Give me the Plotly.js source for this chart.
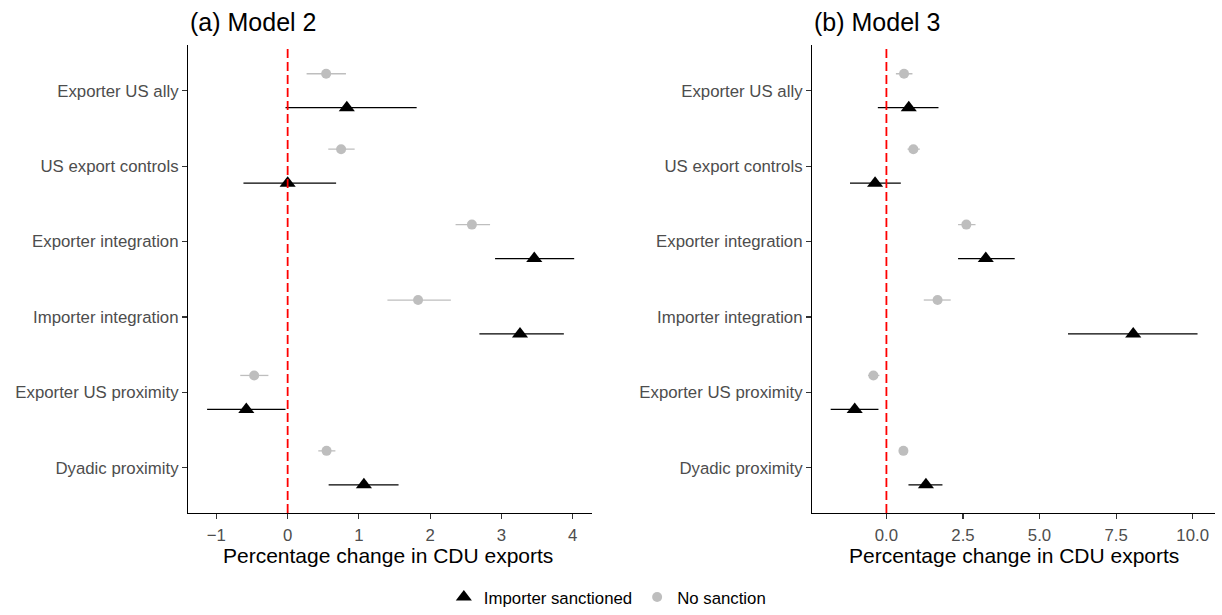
<!DOCTYPE html>
<html>
<head>
<meta charset="utf-8">
<script src="https://cdn.plot.ly/plotly-3.0.1.min.js"></script>
<style>html,body{margin:0;padding:0;background:#fff;}#chart{width:1222px;height:615px;}</style>
</head>
<body>
<div id="chart"></div>
<script>
// Categories, top to bottom
const categories = ["Exporter US ally", "US export controls", "Exporter integration",
  "Importer integration", "Exporter US proximity", "Dyadic proximity"];
const catPos = [6, 5, 4, 3, 2, 1];

// (a) Model 2
const m2SancEst = [0.83, 0.00, 3.46, 3.26, -0.58, 1.07];
const m2SancLo  = [-0.03, -0.62, 2.91, 2.69, -1.13, 0.575];
const m2SancHi  = [1.81, 0.68, 4.02, 3.875, -0.03, 1.556];
const m2NoneEst = [0.54, 0.75, 2.585, 1.83, -0.47, 0.546];
const m2NoneLo  = [0.266, 0.57, 2.356, 1.40, -0.665, 0.43];
const m2NoneHi  = [0.818, 0.94, 2.84, 2.29, -0.27, 0.67];

// (b) Model 3
const m3SancEst = [0.73, -0.37, 3.245, 8.06, -1.035, 1.29];
const m3SancLo  = [-0.28, -1.19, 2.34, 5.93, -1.82, 0.72];
const m3SancHi  = [1.70, 0.47, 4.19, 10.16, -0.26, 1.83];
const m3NoneEst = [0.575, 0.88, 2.61, 1.67, -0.425, 0.555];
const m3NoneLo  = [0.31, 0.69, 2.34, 1.22, -0.6, 0.45];
const m3NoneHi  = [0.85, 1.09, 2.91, 2.10, -0.23, 0.66];

const seriesNames = ["Importer sanctioned", "No sanction"];
const m2Ticks = [-1, 0, 1, 2, 3, 4];
const m3Ticks = [0, 2.5, 5, 7.5, 10];
const m3TickText = ["0.0", "2.5", "5.0", "7.5", "10.0"];
const panelTitles = ["(a) Model 2", "(b) Model 3"];
const xTitle = "Percentage change in CDU exports";

const FONT = "Liberation Sans, Arial, Helvetica, sans-serif";
const DODGE = 0.225;
const sancColor = "#000000";
const noneColor = "#bebebe";

function mkTrace(est, lo, hi, offset, name, color, symbol, size, xa, ya, showlegend) {
  return {
    type: "scatter", mode: "markers", name: name,
    x: est, y: catPos.map(p => p + offset),
    xaxis: xa, yaxis: ya, showlegend: showlegend,
    marker: {color: color, symbol: symbol, size: size, line: {width: 0}},
    error_x: {
      type: "data", symmetric: false,
      array: hi.map((h, i) => h - est[i]),
      arrayminus: lo.map((l, i) => est[i] - l),
      color: color, thickness: 1.3, width: 0
    },
    hoverinfo: "x+y"
  };
}

const traces = [
  mkTrace(m2SancEst, m2SancLo, m2SancHi, -DODGE, seriesNames[0], sancColor, "triangle-up", 14, "x", "y", true),
  mkTrace(m2NoneEst, m2NoneLo, m2NoneHi, DODGE, seriesNames[1], noneColor, "circle", 10, "x", "y", true),
  mkTrace(m3SancEst, m3SancLo, m3SancHi, -DODGE, seriesNames[0], sancColor, "triangle-up", 14, "x2", "y2", false),
  mkTrace(m3NoneEst, m3NoneLo, m3NoneHi, DODGE, seriesNames[1], noneColor, "circle", 10, "x2", "y2", false)
];

const W = 1222, H = 615;
const yDom = [(H - 519) / H, (H - 46) / H];
const tickFont = {family: FONT, size: 16.8, color: "#4d4d4d"};

function xAxis(dom, range, anchor, tickvals, ticktext) {
  const a = {
    domain: dom, range: range, anchor: anchor,
    showgrid: false, zeroline: false,
    showline: true, linecolor: "#000000", linewidth: 1.1,
    ticks: "outside", ticklen: 5, tickwidth: 1.1, tickcolor: "#333333",
    ticklabelstandoff: 2,
    tickvals: tickvals, tickfont: tickFont, fixedrange: true
  };
  if (ticktext) a.ticktext = ticktext;
  return a;
}
function yAxis(anchor) {
  return {
    domain: yDom, range: [0.4, 6.6], anchor: anchor,
    showgrid: false, zeroline: false,
    showline: true, linecolor: "#000000", linewidth: 1.1,
    ticks: "outside", ticklen: 5, tickwidth: 1.1, tickcolor: "#333333",
    tickvals: catPos, ticktext: categories, tickfont: tickFont, fixedrange: true
  };
}

const layout = {
  width: W, height: H,
  margin: {l: 0, r: 0, t: 0, b: 0},
  paper_bgcolor: "#ffffff", plot_bgcolor: "#ffffff",
  font: {family: FONT},
  showlegend: true,
  legend: {
    orientation: "h", x: 0.497, xanchor: "center", y: (H - 604) / H, yanchor: "middle",
    font: {family: FONT, size: 16.8, color: "#000000"},
    bgcolor: "rgba(0,0,0,0)"
  },
  xaxis: xAxis([188 / W, 592 / W], [-1.398, 4.27], "y", m2Ticks),
  yaxis: yAxis("x"),
  xaxis2: xAxis([812 / W, 1215 / W], [-2.43, 10.73], "y2", m3Ticks, m3TickText),
  yaxis2: yAxis("x2"),
  shapes: [
    {type: "line", xref: "x", yref: "y domain", x0: 0, x1: 0, y0: 0, y1: 1,
     line: {color: "#ff0000", width: 1.8, dash: "9px,4px"}, layer: "above"},
    {type: "line", xref: "x2", yref: "y2 domain", x0: 0, x1: 0, y0: 0, y1: 1,
     line: {color: "#ff0000", width: 1.8, dash: "9px,4px"}, layer: "above"}
  ],
  annotations: [
    {text: panelTitles[0], xref: "paper", yref: "paper", x: 188 / W, y: (H - 22) / H,
     xanchor: "left", yanchor: "middle", showarrow: false,
     font: {family: FONT, size: 25, color: "#000000"}},
    {text: panelTitles[1], xref: "paper", yref: "paper", x: 812 / W, y: (H - 22) / H,
     xanchor: "left", yanchor: "middle", showarrow: false,
     font: {family: FONT, size: 25, color: "#000000"}},
    {text: xTitle, xref: "paper", yref: "paper", x: 388 / W, y: (H - 562) / H,
     xanchor: "center", yanchor: "middle", showarrow: false,
     font: {family: FONT, size: 21, color: "#000000"}},
    {text: xTitle, xref: "paper", yref: "paper", x: 1014 / W, y: (H - 562) / H,
     xanchor: "center", yanchor: "middle", showarrow: false,
     font: {family: FONT, size: 21, color: "#000000"}}
  ]
};

Plotly.newPlot("chart", traces, layout, {displayModeBar: false, staticPlot: true});
</script>
</body>
</html>
